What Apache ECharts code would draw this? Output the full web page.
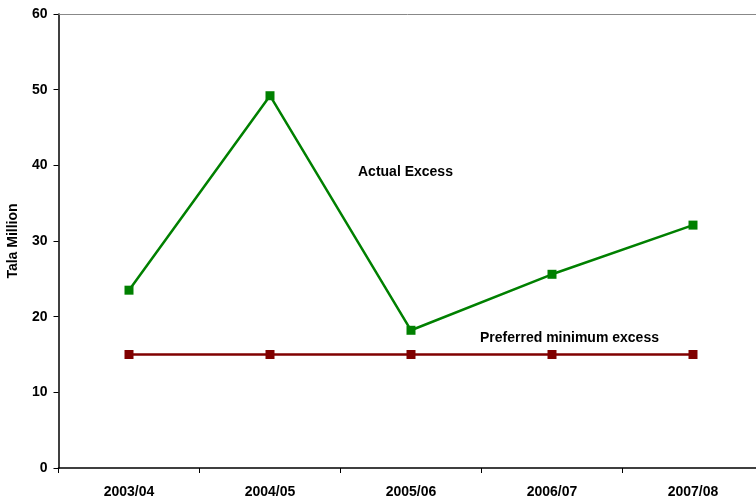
<!DOCTYPE html>
<html>
<head>
<meta charset="utf-8">
<script src="https://cdn.jsdelivr.net/npm/echarts@6/dist/echarts.min.js"></script>
<style>
  html, body { margin: 0; padding: 0; background: #fff; }
  #chart { width: 756px; height: 499px; }
</style>
</head>
<body>
<div id="chart"></div>
<script>
var years = ['2003/04', '2004/05', '2005/06', '2006/07', '2007/08']
var actualExcess = [23.5, 49.2, 18.2, 25.6, 32.1]
var preferredMin = [15, 15, 15, 15, 15]
var yTicks = [0, 10, 20, 30, 40, 50, 60]

var chart = echarts.init(document.getElementById('chart'))
var font = 'Liberation Sans, Arial, sans-serif'

var option = {
  animation: false,
  grid: {
    left: 58.5,
    top: 14,
    width: 705,
    height: 454,
    containLabel: false,
    outerBoundsMode: 'none'
  },
  xAxis: [{
    type: 'category',
    data: years,
    boundaryGap: true,
    axisLine: { lineStyle: { color: '#000', width: 1.5 } },
    axisTick: { show: true, length: 5, lineStyle: { color: '#000' } },
    axisLabel: {
      color: '#000', fontFamily: font, fontWeight: 'bold', fontSize: 14, margin: 17
    }
  }, {
    // grey frame line along the top of the plot area
    type: 'category',
    data: years,
    position: 'top',
    axisLine: { lineStyle: { color: '#888', width: 1 } },
    axisTick: { show: false },
    axisLabel: { show: false }
  }],
  yAxis: {
    type: 'value',
    min: yTicks[0],
    max: yTicks[yTicks.length - 1],
    interval: 10,
    name: 'Tala Million',
    nameLocation: 'middle',
    nameGap: 38,
    nameTextStyle: { color: '#000', fontFamily: font, fontWeight: 'bold', fontSize: 14 },
    axisLine: { show: true, lineStyle: { color: '#000', width: 1.5 } },
    axisTick: { show: true, length: 5, lineStyle: { color: '#000' } },
    splitLine: { show: false },
    axisLabel: { color: '#000', fontFamily: font, fontWeight: 'bold', fontSize: 14, margin: 11 }
  },
  series: [
    {
      name: 'Actual Excess',
      type: 'line',
      data: actualExcess,
      symbol: 'rect',
      symbolSize: 9,
      lineStyle: { color: '#008000', width: 2.5 },
      itemStyle: { color: '#008000' }
    },
    {
      name: 'Preferred minimum excess',
      type: 'line',
      data: preferredMin,
      symbol: 'rect',
      symbolSize: 9,
      lineStyle: { color: '#800000', width: 2.5 },
      itemStyle: { color: '#800000' }
    }
  ],
  graphic: [
    {
      type: 'text', left: 358, top: 165,
      style: { text: 'Actual Excess', fill: '#000', font: 'bold 14px ' + font }
    },
    {
      type: 'text', left: 480, top: 331,
      style: { text: 'Preferred minimum excess', fill: '#000', font: 'bold 14px ' + font }
    }
  ]
}

chart.setOption(option)
</script>
</body>
</html>
